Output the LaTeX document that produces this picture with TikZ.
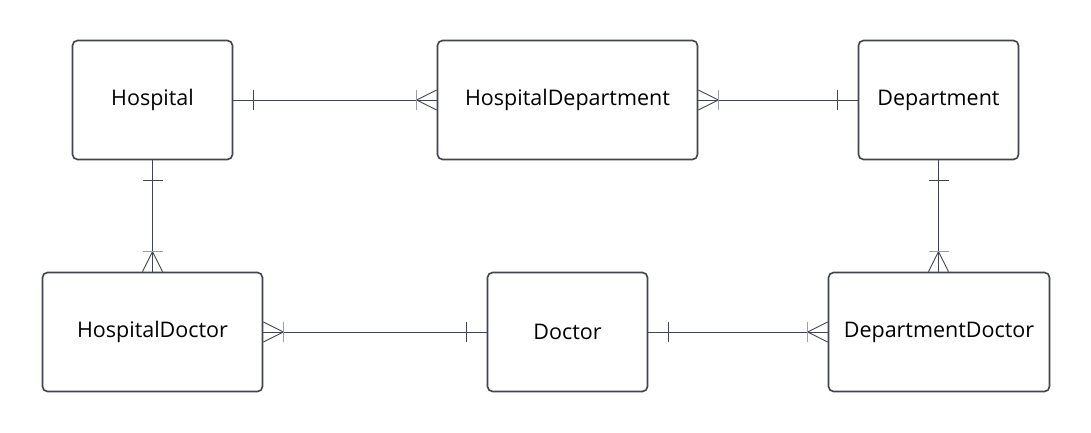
\documentclass[tikz,border=0pt]{standalone}
\usepackage{fontspec}
\setmainfont{Open Sans}
\definecolor{boxline}{HTML}{3F4450}
\definecolor{barline}{HTML}{9A9EA6}
\tikzset{
	entity/.style={draw=boxline, line width=1.6pt, rounded corners=5pt, fill=white, minimum width=#1, minimum height=119pt, inner sep=0pt, font=\fontsize{21.5}{26}\selectfont},
	rel/.style={draw=boxline, line width=0.9pt},
	bar/.style={draw=barline, line width=0.9pt}
}
\begin{document}
\begin{tikzpicture}[x=1pt, y=-1pt]
		\useasboundingbox (0,0) rectangle (1091,433);
		\node [entity=160pt](hosp) at (152.5,100) {Hospital};
		\node [entity=260pt](hdep) at (567.5,100) {HospitalDepartment};
		\node [entity=160pt](dep) at (938.5,100) {Department};
		\node [entity=220pt](hdoc) at (152.5,332) {HospitalDoctor};
		\node [entity=160pt](doc) at (567.5,332) {Doctor};
		\node [entity=221pt](ddoc) at (939,332) {DepartmentDoctor};
		% Hospital -- HospitalDepartment
		\draw [rel] (hosp.east) -- (hdep.west);
		\draw [rel] ([xshift=20pt]hosp.east) ++(0,-10) -- ++(0,20);
		\draw [rel] ([xshift=-20pt]hdep.west) -- ++(20,-10);
		\draw [rel] ([xshift=-20pt]hdep.west) -- ++(20,10);
		\draw [bar] ([xshift=-20pt]hdep.west) ++(0,-10) -- ++(0,20);
		% HospitalDepartment -- Department
		\draw [rel] (hdep.east) -- (dep.west);
		\draw [rel] ([xshift=-20pt]dep.west) ++(0,-10) -- ++(0,20);
		\draw [rel] ([xshift=20pt]hdep.east) -- ++(-20,-10);
		\draw [rel] ([xshift=20pt]hdep.east) -- ++(-20,10);
		\draw [bar] ([xshift=20pt]hdep.east) ++(0,-10) -- ++(0,20);
		% Hospital -- HospitalDoctor
		\draw [rel] (hosp.south) -- (hdoc.north);
		\draw [rel] ([yshift=-20pt]hosp.south) ++(-10,0) -- ++(20,0);
		\draw [rel] ([yshift=20pt]hdoc.north) -- ++(-10,20);
		\draw [rel] ([yshift=20pt]hdoc.north) -- ++(10,20);
		\draw [bar] ([yshift=20pt]hdoc.north) ++(-10,0) -- ++(20,0);
		% Department -- DepartmentDoctor
		\draw [rel] (dep.south) -- (dep.south |- ddoc.north);
		\draw [rel] ([yshift=-20pt]dep.south) ++(-10,0) -- ++(20,0);
		\draw [rel] ([yshift=20pt]dep.south |- ddoc.north) -- ++(-10,20);
		\draw [rel] ([yshift=20pt]dep.south |- ddoc.north) -- ++(10,20);
		\draw [bar] ([yshift=20pt]dep.south |- ddoc.north) ++(-10,0) -- ++(20,0);
		% HospitalDoctor -- Doctor
		\draw [rel] (hdoc.east) -- (doc.west);
		\draw [rel] ([xshift=-20pt]doc.west) ++(0,-10) -- ++(0,20);
		\draw [rel] ([xshift=20pt]hdoc.east) -- ++(-20,-10);
		\draw [rel] ([xshift=20pt]hdoc.east) -- ++(-20,10);
		\draw [bar] ([xshift=20pt]hdoc.east) ++(0,-10) -- ++(0,20);
		% Doctor -- DepartmentDoctor
		\draw [rel] (doc.east) -- (ddoc.west);
		\draw [rel] ([xshift=20pt]doc.east) ++(0,-10) -- ++(0,20);
		\draw [rel] ([xshift=-20pt]ddoc.west) -- ++(20,-10);
		\draw [rel] ([xshift=-20pt]ddoc.west) -- ++(20,10);
		\draw [bar] ([xshift=-20pt]ddoc.west) ++(0,-10) -- ++(0,20);
\end{tikzpicture}
\end{document}
